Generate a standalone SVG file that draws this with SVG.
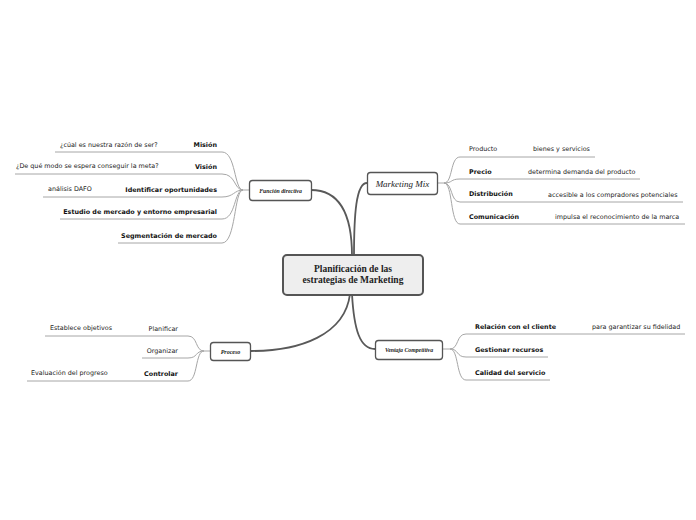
<svg xmlns="http://www.w3.org/2000/svg" width="696" height="520" viewBox="0 0 696 520">
<style>
.main{fill:none;stroke:#595959;stroke-width:1.8;stroke-linecap:round}
.br{fill:none;stroke:#a6a6a6;stroke-width:1}
.box{fill:#fff;stroke:#555;stroke-width:1.3}
.root{fill:#eeeeee;stroke:#555;stroke-width:2}
.t{font-family:"DejaVu Sans",Verdana,sans-serif;font-size:6.4px;fill:#222}
.b{font-weight:bold;fill:#111}
.e{text-anchor:end}
.s{font-family:"Liberation Serif","Times New Roman",serif;font-style:italic;text-anchor:middle;fill:#222}
</style>
<rect width="696" height="520" fill="#fff"/>
<g id="connectors">
<path class="main" d="M352,256 C352,215 340,190 311,190"/>
<path class="main" d="M354,256 C354,215 356,183 367,183"/>
<path class="main" d="M350,294 C345,335 300,351 251,351"/>
<path class="main" d="M352,294 C354,330 360,349 375,349"/>
<path class="br" d="M55,152 L222,152 C236,152 234,190 243,190 L249,190"/>
<path class="br" d="M15,174 L222,174 C236,174 234,190 243,190"/>
<path class="br" d="M43,197 L222,197 C234,197 234,190 243,190"/>
<path class="br" d="M60,219 L222,219 C236,219 234,190 243,190"/>
<path class="br" d="M118,243 L222,243 C236,243 234,190 243,190"/>
<path class="br" d="M437,183 L444,183 C453,183 450,157 460,157 L595,157"/>
<path class="br" d="M444,183 C453,183 450,179 460,179 L640,179"/>
<path class="br" d="M444,183 C453,183 450,202 460,202 L683,202"/>
<path class="br" d="M444,183 C453,183 450,224 460,224 L685,224"/>
<path class="br" d="M443,349 L450,349 C459,349 456,334 466,334 L685,334"/>
<path class="br" d="M450,349 C459,349 456,357 466,357 L548,357"/>
<path class="br" d="M450,349 C459,349 456,380 466,380 L550,380"/>
<path class="br" d="M210,351 L204,351 C195,351 198,336 188,336 L45,336"/>
<path class="br" d="M204,351 C195,351 198,358 188,358 L142,358"/>
<path class="br" d="M204,351 C195,351 198,381 188,381 L27,381"/>
</g>
<g id="root">
<rect class="root" x="283" y="255" width="140" height="40" rx="4"/>
<text x="353" y="272" class="s" style="font-style:normal;font-weight:bold;font-size:9.5px">Planificación de las</text>
<text x="353" y="283" class="s" style="font-style:normal;font-weight:bold;font-size:9.5px">estrategias de Marketing</text>
</g>
<g id="funcion-directiva">
<rect class="box" x="249.5" y="180.5" width="62" height="20" rx="3"/>
<text x="280.5" y="192.5" class="s" style="font-size:5.8px;font-weight:bold">Función directiva</text>
</g>
<g id="marketing-mix">
<rect class="box" x="367.5" y="172.5" width="70" height="22" rx="3"/>
<text x="402.5" y="186.5" class="s" style="font-size:9px">Marketing Mix</text>
</g>
<g id="proceso">
<rect class="box" x="210.5" y="342.5" width="40" height="18" rx="3"/>
<text x="230.5" y="353.5" class="s" style="font-size:6px;font-weight:bold">Proceso</text>
</g>
<g id="ventaja">
<rect class="box" x="375.5" y="340.5" width="67" height="19" rx="3"/>
<text x="409" y="352" class="s" style="font-size:5.8px;font-weight:bold">Ventaja Competitiva</text>
</g>
<g id="mision"><text class="t b e" x="217" y="147">Misión</text><text class="t" x="60" y="147">¿cúal es nuestra razón de ser?</text></g>
<g id="vision"><text class="t b e" x="217" y="169">Visión</text><text class="t" x="16" y="168">¿De qué modo se espera conseguir la meta?</text></g>
<g id="identificar"><text class="t b e" x="217" y="192">Identificar oportunidades</text><text class="t" x="48" y="191">análisis DAFO</text></g>
<g id="estudio"><text class="t b e" x="217" y="214">Estudio de mercado y entorno empresarial</text></g>
<g id="segmentacion"><text class="t b e" x="217" y="238">Segmentación de mercado</text></g>
<g id="producto"><text class="t" x="469" y="151">Producto</text><text class="t" x="533" y="151">bienes y servicios</text></g>
<g id="precio"><text class="t b" x="469" y="174">Precio</text><text class="t" x="528" y="174">determina demanda del producto</text></g>
<g id="distribucion"><text class="t b" x="469" y="196">Distribución</text><text class="t" x="548" y="197">accesible a los compradores potenciales</text></g>
<g id="comunicacion"><text class="t b" x="469" y="219">Comunicación</text><text class="t" x="555" y="219">impulsa el reconocimiento de la marca</text></g>
<g id="relacion"><text class="t b" x="475" y="329">Relación con el cliente</text><text class="t" x="592" y="329">para garantizar su fidelidad</text></g>
<g id="gestionar"><text class="t b" x="475" y="352">Gestionar recursos</text></g>
<g id="calidad"><text class="t b" x="475" y="375">Calidad del servicio</text></g>
<g id="planificar"><text class="t e" x="178" y="331">Planificar</text><text class="t" x="50" y="330">Establece objetivos</text></g>
<g id="organizar"><text class="t e" x="178" y="353">Organizar</text></g>
<g id="controlar"><text class="t b e" x="178" y="376">Controlar</text><text class="t" x="31" y="375">Evaluación del progreso</text></g>
</svg>
